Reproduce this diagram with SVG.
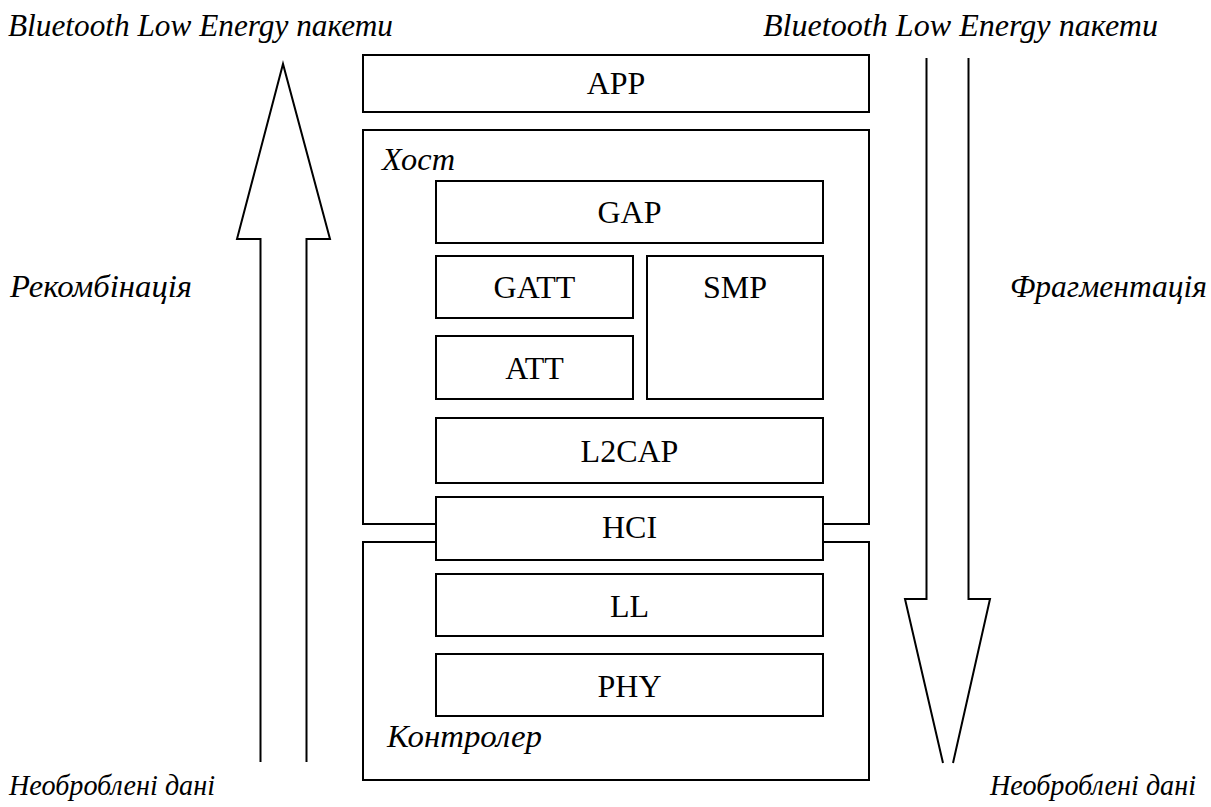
<svg xmlns="http://www.w3.org/2000/svg" width="1211" height="807" viewBox="0 0 1211 807">
  <style>
    .box { fill: #fff; stroke: #000; stroke-width: 2; }
    .frame { fill: none; stroke: #000; stroke-width: 2; }
    .arrow { fill: none; stroke: #000; stroke-width: 2; stroke-linejoin: miter; }
    .lbl { font-family: "Liberation Serif", "Times New Roman", serif; font-size: 32px; text-anchor: middle; fill: #000; }
    .note { font-family: "Liberation Serif", "Times New Roman", serif; font-size: 31px; font-style: italic; fill: #000; }
    .foot { font-size: 29px; }
    .end { text-anchor: end; }
  </style>
  <rect width="1211" height="807" fill="#fff"/>

  <!-- side labels -->
  <text class="note" x="8" y="36" textLength="385" lengthAdjust="spacingAndGlyphs">Bluetooth Low Energy пакети</text>
  <text class="note end" x="1158" y="36" textLength="395" lengthAdjust="spacingAndGlyphs">Bluetooth Low Energy пакети</text>
  <text class="note" x="10" y="297" textLength="182" lengthAdjust="spacingAndGlyphs">Рекомбінація</text>
  <text class="note end" x="1207" y="297" textLength="197" lengthAdjust="spacingAndGlyphs">Фрагментація</text>
  <text class="note foot" x="9" y="795" textLength="206" lengthAdjust="spacingAndGlyphs">Необроблені дані</text>
  <text class="note foot end" x="1196" y="795" textLength="206" lengthAdjust="spacingAndGlyphs">Необроблені дані</text>

  <!-- flow arrows -->
  <g id="connectors">
    <polyline class="arrow" points="260.5,762 260.5,239 237,239 283,64 330,239 306.5,239 306.5,762"/>
    <polyline class="arrow" points="926.5,58 926.5,599 905,599 943,763"/>
    <polyline class="arrow" points="953,763 990,599 968.5,599 968.5,58"/>
  </g>

  <g id="app">
    <rect class="box" x="363" y="55" width="506" height="57"/>
    <text class="lbl" x="616" y="94">APP</text>
  </g>

  <g id="host">
    <rect class="frame" x="363" y="130" width="506" height="394"/>
    <text class="note" x="382" y="170" textLength="73" lengthAdjust="spacingAndGlyphs">Хост</text>
  </g>

  <g id="controller">
    <rect class="frame" x="363" y="542" width="506" height="238"/>
    <text class="note" x="387" y="747" textLength="155" lengthAdjust="spacingAndGlyphs">Контролер</text>
  </g>

  <g id="gap">
    <rect class="box" x="436" y="181" width="387" height="62"/>
    <text class="lbl" x="629.5" y="223">GAP</text>
  </g>

  <g id="gatt">
    <rect class="box" x="436" y="256" width="197" height="62"/>
    <text class="lbl" x="534.5" y="298">GATT</text>
  </g>

  <g id="smp">
    <rect class="box" x="647" y="256" width="176" height="143"/>
    <text class="lbl" x="735" y="298">SMP</text>
  </g>

  <g id="att">
    <rect class="box" x="436" y="336" width="197" height="63"/>
    <text class="lbl" x="534.5" y="379">ATT</text>
  </g>

  <g id="l2cap">
    <rect class="box" x="436" y="418" width="387" height="65"/>
    <text class="lbl" x="629.5" y="462">L2CAP</text>
  </g>

  <g id="hci">
    <rect class="box" x="436" y="497" width="387" height="63"/>
    <text class="lbl" x="629.5" y="538">HCI</text>
  </g>

  <g id="ll">
    <rect class="box" x="436" y="574" width="387" height="62"/>
    <text class="lbl" x="629.5" y="617">LL</text>
  </g>

  <g id="phy">
    <rect class="box" x="436" y="654" width="387" height="62"/>
    <text class="lbl" x="629.5" y="697">PHY</text>
  </g>
</svg>
